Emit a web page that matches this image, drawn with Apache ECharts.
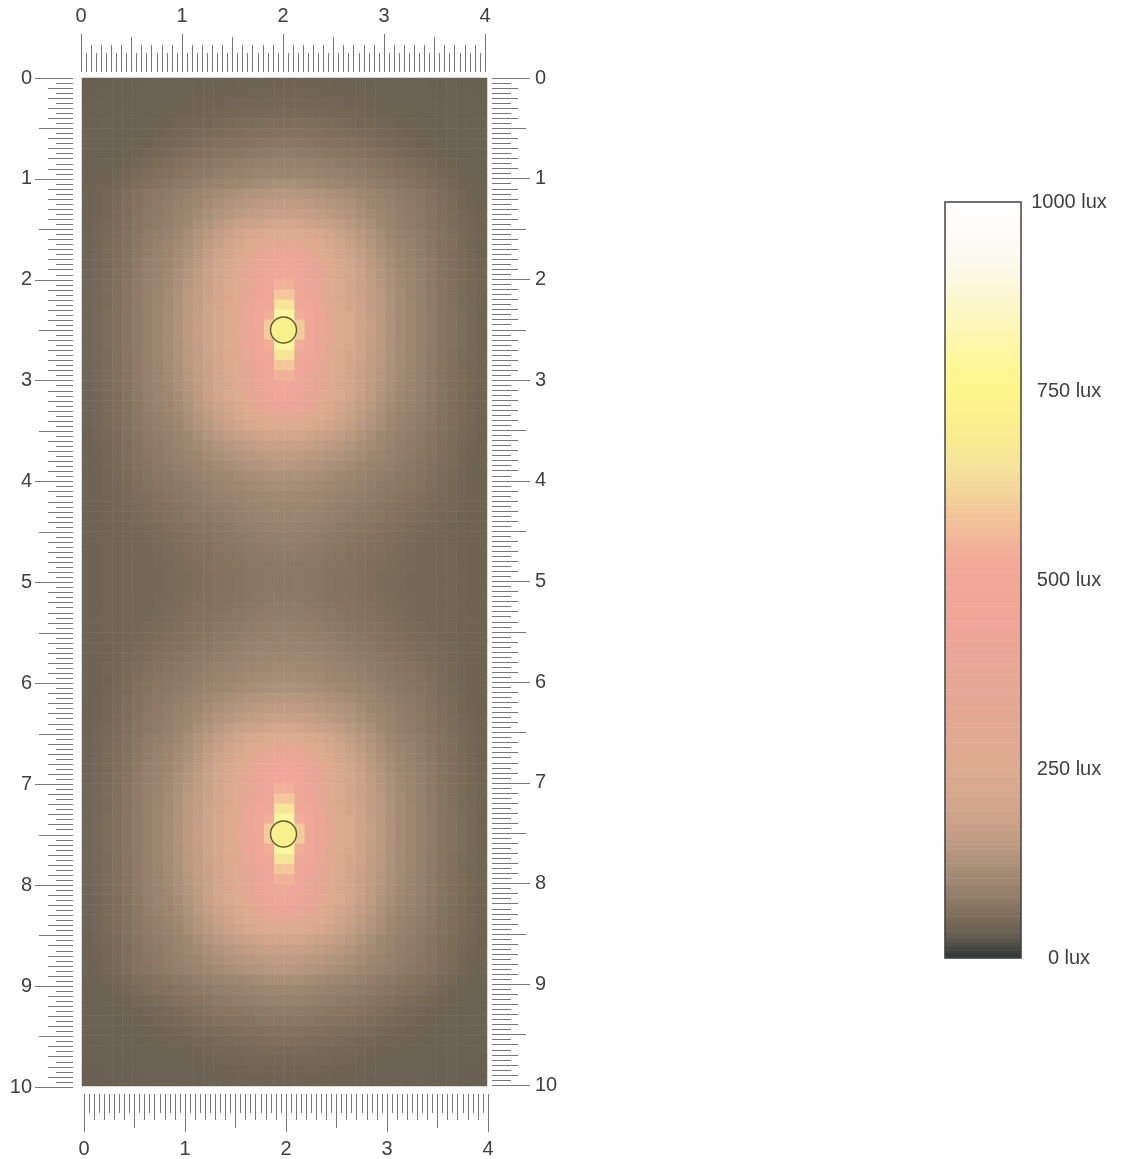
<!DOCTYPE html>
<html><head><meta charset="utf-8">
<style>html,body{margin:0;padding:0;background:#fff}#c{width:1123px;height:1159px}</style>
<script src="https://cdn.jsdelivr.net/npm/echarts@6/dist/echarts.min.js"></script>
</head><body><div id="c"></div>
<script>
const nearRows = [
[900,600,480,430,310,255,218,190,168,148,128,112,100,90,80,70,61,54,48,43],
[800,530,468,418,300,250,215,188,166,147,127,112,100,90,80,70,61,54,48,43],
[660,480,450,382,288,242,210,185,164,145,127,111,99,90,79,69,60,53,48,43],
[590,450,434,350,272,235,204,181,162,143,125,110,98,89,78,68,59,53,47,43],
[540,440,400,335,270,232,198,176,158,140,122,108,97,88,77,67,58,52,47,43],
[480,440,410,340,278,235,205,178,156,136,120,106,96,87,76,66,58,52,47,43],
[450,430,390,320,255,222,195,170,150,130,115,103,94,85,75,65,57,51,46,42],
[420,395,340,285,238,208,183,163,144,125,111,100,91,83,74,64,56,51,46,42],
[330,310,280,250,218,193,172,153,136,119,106,96,88,80,72,63,56,50,45,42],
[260,250,235,215,195,178,161,145,130,114,102,92,85,78,70,62,55,50,45,42],
[205,200,190,180,170,158,145,130,118,105,95,86,80,74,67,60,53,48,44,41],
[172,170,165,158,150,140,130,120,110,100,92,84,78,72,65,58,52,47,43,41],
[155,152,148,143,136,128,120,112,103,95,88,81,76,70,64,57,51,46,43,40],
[140,138,134,128,122,116,110,103,96,89,83,78,73,68,62,55,50,45,42,40]
];
// Further out: towards the room's ends ...
const outwardRows = [
[118,116,112,108,104,99,94,89,84,79,75,70,66,60,55,50,45,42,40,39],
[100,99,97,94,90,87,83,79,75,71,67,63,59,55,50,46,43,41,39,38],
[90,89,87,84,81,78,75,71,67,63,59,55,52,48,45,42,40,39,38,38],
[80,79,77,75,72,70,67,64,60,56,53,50,47,44,42,40,39,38,38,37],
[70,70,68,66,64,62,60,57,54,51,48,46,44,41,40,39,38,38,37,37],
[62,62,60,59,57,55,53,51,49,47,45,43,41,40,39,38,38,37,37,37],
[56,56,55,54,52,50,48,46,45,43,42,41,40,39,38,38,37,37,36,36],
[50,50,49,48,47,46,45,44,42,41,40,40,39,38,38,37,37,36,36,36],
[46,46,45,45,44,43,42,42,41,40,39,39,38,38,37,37,36,36,36,35],
[43,43,42,42,41,41,40,40,39,39,38,38,38,37,37,36,36,36,35,35],
[41,41,40,40,40,39,39,39,38,38,38,37,37,37,36,36,36,35,35,35]
];
// ... and towards the mid-line between the two lamps
const inwardRows = [
[124,122,119,115,110,105,100,95,89,84,79,74,70,65,59,53,48,44,41,40],
[115,113,110,107,103,98,93,88,84,79,75,71,67,62,57,51,47,43,41,40],
[107,105,103,100,96,92,88,83,79,75,71,67,63,58,54,49,46,43,41,40],
[100,99,97,94,90,86,82,78,75,71,67,63,59,55,51,48,45,43,41,40],
[95,94,92,89,85,82,78,74,71,67,63,59,56,52,49,46,44,42,41,40],
[90,89,87,84,81,77,74,70,67,64,60,57,53,50,47,45,43,42,41,40],
[85,84,82,80,77,74,70,67,64,61,57,54,51,48,46,44,43,42,41,40],
[81,80,78,76,73,70,67,64,61,58,55,52,49,47,45,44,43,42,41,40],
[78,77,75,73,70,67,64,61,59,56,53,51,48,46,45,44,43,42,41,40],
[75,74,72,70,67,65,62,59,57,54,52,50,48,46,45,44,43,42,41,40],
[73,72,70,68,66,63,61,58,56,53,51,49,47,46,45,44,43,42,41,40]
];
const lamps = [[2, 2.5], [2, 7.5]];
const rulerSteps = [1, 0.5, 0.1, 0.05];
const luxTicks = [0, 250, 500, 750, 1000];
const luxColors = ['#2e3436','#5e5a4e','#796a58','#8d7a66','#9c8670','#ad927a','#bd9b81','#c9a187','#d2a68b','#d8a98e','#dcab90','#dfaa91','#e2a992','#e4a893','#e6a794','#e8a795','#eaa696','#eca696','#eea697','#efa797','#f0a898','#f1ab98','#f1b398','#f2bf98','#f3cc99','#f4d99a','#f5e39a','#f7e993','#f9ee8e','#fbf28b','#fdf68a','#fef78f','#fef7a0','#fdf7b0','#fcf7c0','#fbf8d2','#fbf8e2','#fbf9ee','#fcfaf5','#fefdfb','#ffffff'];

const NCOL = 40, NROW = 100;
const towardEnd = nearRows.concat(outwardRows), towardMid = nearRows.concat(inwardRows);
const fieldData = [];
for (let r = 0; r < NROW; r++) {
  const half = r < 50 ? r : NROW - 1 - r;        // second lamp mirrors the first about y = 5
  const source = half < 25 ? towardEnd[24 - half] : towardMid[half - 25];
  for (let c = 0; c < NCOL; c++) {
    fieldData.push([c, r, source[c < 20 ? 19 - c : c - 20]]);
  }
}
const barCells = [];
const barRows = 200;
for (let i = 0; i < barRows; i++) barCells.push([0, i, (barRows - i - 0.5) * 1000 / barRows]);

const FONT = '"Liberation Sans", Arial, sans-serif';
const grids = [], xAxes = [], yAxes = [];
function hidden(extra) { return Object.assign({ show: false }, extra); }

function addGrid(rect, x, y) {
  grids.push(Object.assign({ containLabel: false, show: false }, rect));
  const i = grids.length - 1;
  xAxes.push(Object.assign({ gridIndex: i }, x));
  yAxes.push(Object.assign({ gridIndex: i }, y));
  return i;
}

const tickLens = {
  top: [38, 35, 27, 19], bottom: [38, 34, 26, 19],
  left: [38, 34, 25, 17], right: [38, 34, 26, 19]
};
function addRuler(side, rect, max, margin) {
  const horizontal = side === 'top' || side === 'bottom';
  rulerSteps.forEach((step, k) => {
    const axis = {
      type: 'value', min: 0, max, interval: step, position: side,
      inverse: !horizontal,
      axisLine: { show: false },
      splitLine: { show: false },
      axisTick: { show: true, inside: false, length: tickLens[side][k], lineStyle: { color: '#777', width: 1 } },
      axisLabel: { show: k === 0, margin, fontSize: 20, color: '#404040', fontFamily: FONT, hideOverlap: false, showMinLabel: true, showMaxLabel: true }
    };
    const other = hidden({ type: 'value', min: 0, max: 1 });
    if (horizontal) addGrid(rect, axis, other); else addGrid(rect, other, axis);
  });
}

const cats = n => Array.from({ length: n }, (_, i) => i);
const G_FIELD = addGrid({ left: 82, top: 78, width: 405, height: 1008 },
  hidden({ type: 'category', data: cats(NCOL) }),
  hidden({ type: 'category', data: cats(NROW), inverse: true }));
const G_LAMP = addGrid({ left: 81, top: 78, width: 405, height: 1008 },
  hidden({ type: 'value', min: 0, max: 4 }),
  hidden({ type: 'value', min: 0, max: 10, inverse: true }));
const G_BAR = addGrid({ left: 945, top: 202, width: 76, height: 756 },
  hidden({ type: 'category', data: [0] }),
  hidden({ type: 'category', data: cats(barRows), inverse: true }));
addGrid({ left: 945, top: 202, width: 76, height: 756 },
  hidden({ type: 'value', min: 0, max: 1 }),
  { type: 'value', min: luxTicks[0], max: luxTicks[4], interval: 250, position: 'right',
    axisLine: { show: false }, axisTick: { show: false }, splitLine: { show: false },
    axisLabel: { margin: 48, align: 'center', fontSize: 20, color: '#404040', fontFamily: FONT, formatter: v => v + ' lux', showMinLabel: true, showMaxLabel: true } });

addRuler('top',    { left: 81, top: 71, width: 404, height: 1 }, 4, 45);
addRuler('bottom', { left: 84, top: 1093, width: 404, height: 1 }, 4, 45);
addRuler('left',   { left: 73, top: 78, width: 1, height: 1009 }, 10, 41);
addRuler('right',  { left: 492, top: 78, width: 1, height: 1007 }, 10, 42);

const chart = echarts.init(document.getElementById('c'), null, { renderer: 'canvas', width: 1123, height: 1159 });
chart.setOption({
  animation: false,
  backgroundColor: '#fff',
  grid: grids, xAxis: xAxes, yAxis: yAxes,
  visualMap: { type: 'continuous', show: false, min: 0, max: 1000, seriesIndex: [0, 1], inRange: { color: luxColors } },
  series: [
    { type: 'heatmap', xAxisIndex: G_FIELD, yAxisIndex: G_FIELD, data: fieldData, progressive: 0, itemStyle: { borderWidth: 0 }, emphasis: { disabled: true } },
    { type: 'heatmap', xAxisIndex: G_BAR, yAxisIndex: G_BAR, data: barCells, progressive: 0, itemStyle: { borderWidth: 0 }, emphasis: { disabled: true } },
    { type: 'scatter', xAxisIndex: G_LAMP, yAxisIndex: G_LAMP, data: lamps, symbol: 'circle', symbolSize: 26, z: 5,
      itemStyle: { color: '#f8f08a', borderColor: '#5b5a35', borderWidth: 1.4, opacity: 1 } }
  ],
  graphic: [{ type: 'rect', z: 100, shape: { x: 945, y: 202, width: 76, height: 756 }, style: { fill: 'none', stroke: '#444', lineWidth: 1.5 } }]
});
</script></body></html>
